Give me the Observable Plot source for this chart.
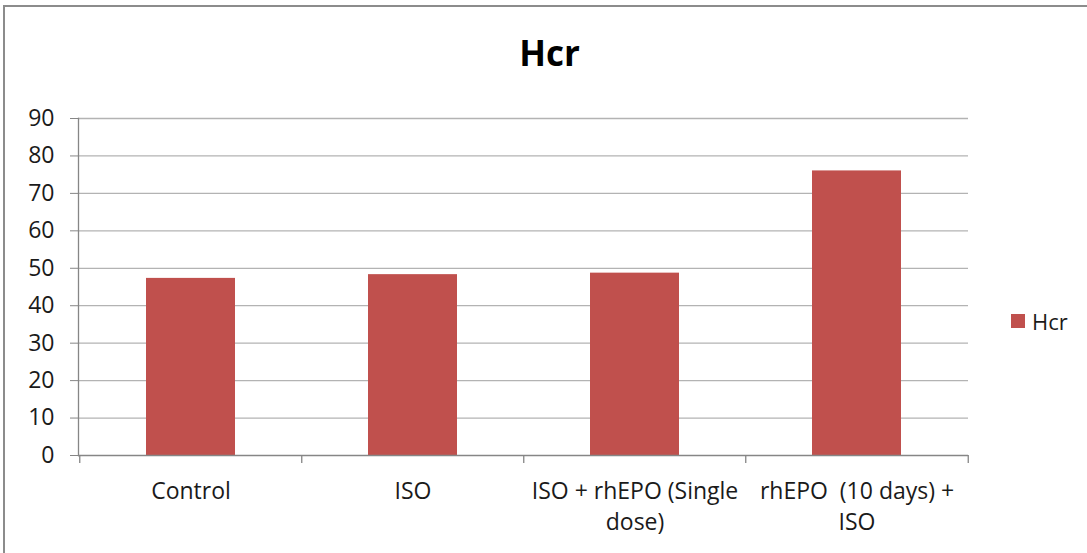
<!DOCTYPE html>
<html><head><meta charset="utf-8">
<script src="https://cdn.jsdelivr.net/npm/d3@7"></script>
<script src="https://cdn.jsdelivr.net/npm/@observablehq/plot@0.6"></script>
<style>
body{margin:0;background:#fff;font-family:"Open Sans", sans-serif;}
#wrap{position:relative;width:1087px;height:553px;overflow:hidden;background:#fff;}
#frame{position:absolute;left:3px;top:5px;width:3000px;height:3000px;border-left:2px solid #8c8c8c;border-top:2px solid #8c8c8c;box-sizing:border-box;}
#chart{position:absolute;left:0;top:0;}
#title{position:absolute;left:0;width:1099px;top:33px;text-align:center;font-weight:bold;font-size:35px;color:#000;line-height:40px;}
#legend{position:absolute;left:1011px;top:306px;height:30px;display:flex;align-items:center;font-size:22px;color:#1a1a1a;}
#legend .sw{width:14px;height:14px;background:#C0504D;margin-right:7px;}
#chart svg text{font-size:23px;}
</style></head>
<body>
<div id="wrap">
  <div id="frame"></div>
  <div id="chart"></div>
  <div id="title"></div>
  <div id="legend"><div class="sw"></div><span id="legtext"></span></div>
</div>
<script>
const chartTitle = "Hcr";
const seriesName = "Hcr";
const categories = ["Control", "ISO", "ISO + rhEPO (Single dose)", "rhEPO  (10 days) + ISO"];
const tickLabels = ["Control", "ISO", "ISO + rhEPO (Single\ndose)", "rhEPO  (10 days) +\nISO"];
const values = [47.3, 48.3, 48.7, 76.0];
const yTicks = [0, 10, 20, 30, 40, 50, 60, 70, 80, 90];

const data = categories.map((c, i) => ({category: c, value: values[i]}));

const W = 1087, H = 553, ml = 78, mr = 119, mt = 118, mb = 98;
const step = (W - ml - mr) / categories.length;
const barColor = "#C0504D";
const axisColor = "#868686";
const gridColor = "#b3b3b3";

document.getElementById("title").textContent = chartTitle;
document.getElementById("legtext").textContent = seriesName;

const plot = Plot.plot({
  width: W, height: H,
  marginLeft: ml, marginRight: mr, marginTop: mt, marginBottom: mb,
  style: {fontFamily: "'Open Sans', sans-serif", fontSize: "23px", color: "#1a1a1a", background: "transparent", overflow: "visible"},
  x: {domain: categories, paddingInner: 0.6, paddingOuter: 0.3, label: null},
  y: {domain: [0, 90], label: null},
  marks: [
    Plot.ruleY(yTicks.filter(d => d !== 0), {stroke: gridColor, strokeWidth: 1.3}),
    Plot.barY(data, {x: "category", y: "value", fill: barColor}),
    Plot.axisY({ticks: yTicks, tickSize: 8, tickPadding: 16, stroke: axisColor, fill: "#1a1a1a", fontSize: 23, label: null}),
    Plot.frame({anchor: "left", stroke: axisColor, strokeWidth: 1.3}),
    Plot.ruleY([0], {stroke: axisColor, strokeWidth: 1.3}),
    Plot.ruleX(categories, {x: d => d, y1: 0, y2: 0, insetBottom: -8, dx: -step / 2, stroke: axisColor, strokeWidth: 1.3}),
    Plot.ruleX(categories.slice(-1), {x: d => d, y1: 0, y2: 0, insetBottom: -8, dx: step / 2, stroke: axisColor, strokeWidth: 1.3}),
    Plot.axisX({tickSize: 0, tickPadding: 21, fontSize: 23, fill: "#1a1a1a", lineHeight: 1.37,
      tickFormat: d => tickLabels[categories.indexOf(d)], label: null})
  ]
});
document.getElementById("chart").appendChild(plot);
</script>
</body></html>
